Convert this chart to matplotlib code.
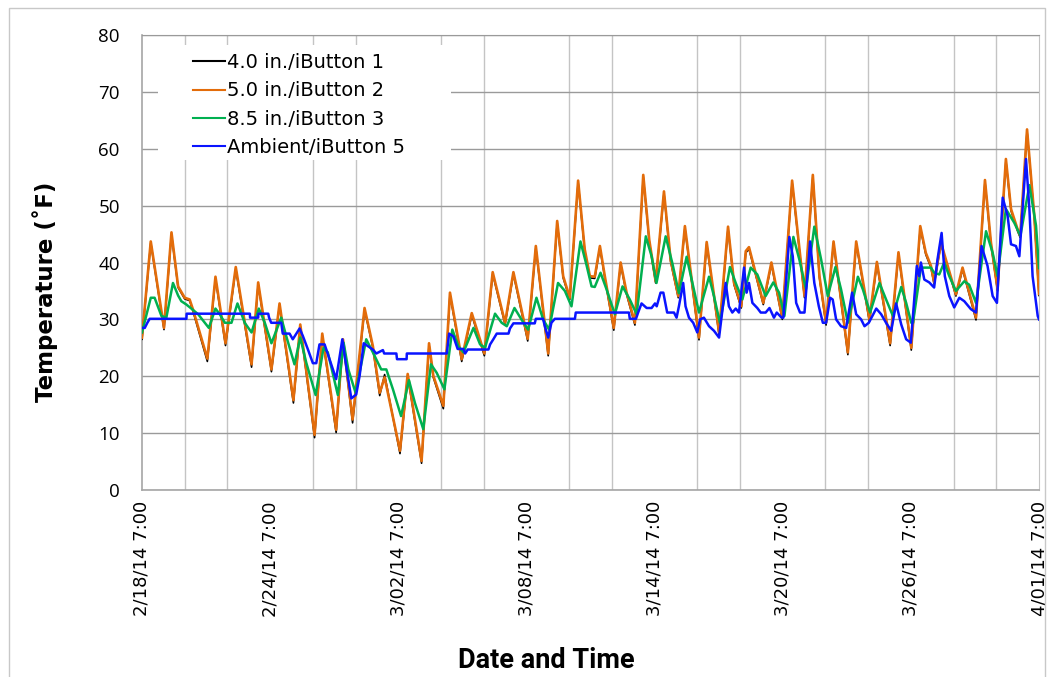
import matplotlib
matplotlib.use("Agg")
import matplotlib.pyplot as plt
from matplotlib.lines import Line2D
from matplotlib.patches import Rectangle

# ---------------- data (time = days since 2/18/14 7:00) ----------------
tick_days = [0, 6, 12, 18, 24, 30, 36, 42]
tick_labels = ["2/18/14 7:00", "2/24/14 7:00", "3/02/14 7:00", "3/08/14 7:00",
               "3/14/14 7:00", "3/20/14 7:00", "3/26/14 7:00", "4/01/14 7:00"]
y_ticks = [0, 10, 20, 30, 40, 50, 60, 70, 80]

series_names = ["4.0 in./iButton 1", "5.0 in./iButton 2",
                "8.5 in./iButton 3", "Ambient/iButton 5"]

probe_t = [0.00, 0.41, 1.03, 1.38, 1.69, 2.00, 2.23, 2.39, 3.06, 3.44,
           3.91, 4.39, 5.13, 5.44, 6.06, 6.44, 7.09, 7.41, 8.08, 8.44,
           9.09, 9.41, 9.86, 10.42, 10.81, 11.13, 11.36, 12.08, 12.44, 13.09,
           13.44, 13.64, 14.11, 14.42, 14.97, 15.44, 16.03, 16.42, 17.00, 17.39,
           18.06, 18.44, 19.02, 19.44, 19.72, 20.03, 20.42, 20.73, 20.97, 21.20,
           21.44, 21.67, 22.09, 22.41, 22.69, 23.08, 23.47, 23.75, 24.05, 24.44,
           24.75, 25.11, 25.42, 26.08, 26.44, 27.02, 27.44, 27.72, 28.06, 28.27,
           28.42, 28.81, 29.09, 29.47, 29.98, 30.44, 31.02, 31.41, 31.72, 32.03,
           32.38, 33.05, 33.44, 34.06, 34.41, 35.03, 35.42, 36.02, 36.44, 36.70,
           36.94, 37.09, 37.41, 38.11, 38.42, 39.05, 39.47, 39.75, 40.06, 40.45,
           40.69, 41.00, 41.12, 41.44, 41.78, 42.00]

ibutton2_v = [26.8, 43.7, 28.5, 45.3, 35.8, 33.8, 33.5, 31.7, 23.1, 37.5,
              25.8, 39.2, 22.1, 36.5, 21.2, 32.8, 15.8, 29.1, 9.7, 27.5,
              10.6, 26.5, 12.4, 32.0, 25.3, 17.1, 19.8, 6.9, 20.4, 5.1,
              25.8, 20.1, 14.8, 34.7, 23.0, 31.1, 24.0, 38.3, 29.4, 38.3,
              26.6, 42.9, 24.0, 47.3, 37.6, 33.8, 54.4, 42.3, 37.6, 37.5,
              42.9, 37.6, 28.5, 40.0, 34.7, 29.4, 55.4, 44.0, 36.7, 52.5,
              40.5, 34.1, 46.4, 26.8, 43.6, 27.7, 46.3, 36.4, 32.3, 42.0,
              42.7, 37.0, 32.9, 40.0, 30.3, 54.4, 34.1, 55.4, 37.6, 29.4,
              43.7, 24.2, 43.7, 30.0, 40.1, 25.8, 41.8, 25.0, 46.4, 41.7,
              39.4, 36.5, 43.5, 34.4, 39.1, 30.3, 54.5, 43.5, 35.3, 58.2,
              49.4, 45.8, 44.7, 63.4, 48.2, 34.5]

ibutton1_v = [26.5, 43.5, 28.2, 45.0, 35.6, 33.6, 33.3, 31.4, 22.6, 37.2,
              25.4, 38.9, 21.6, 36.2, 20.8, 32.5, 15.3, 28.8, 9.2, 27.2,
              10.1, 26.3, 11.8, 31.7, 25.0, 16.6, 20.3, 6.4, 20.1, 4.7,
              25.5, 19.8, 14.3, 34.4, 22.6, 30.8, 23.6, 38.0, 29.1, 38.0,
              26.2, 42.6, 23.6, 47.0, 37.3, 33.5, 54.1, 42.0, 37.3, 37.2,
              42.6, 37.3, 28.1, 39.7, 34.4, 29.0, 55.1, 43.7, 36.4, 52.2,
              40.2, 33.8, 46.1, 26.4, 43.3, 27.3, 46.0, 36.1, 32.0, 41.7,
              42.4, 36.7, 32.6, 39.7, 30.0, 54.1, 33.8, 55.1, 37.3, 29.0,
              43.4, 23.8, 43.4, 29.6, 39.8, 25.4, 41.5, 24.6, 46.1, 41.4,
              39.1, 36.2, 43.2, 34.1, 38.8, 29.9, 54.2, 43.2, 35.0, 57.9,
              49.1, 45.5, 44.4, 63.1, 47.9, 34.2]

ibutton3_t = [0.00, 0.41, 0.59, 0.91, 1.14, 1.45, 1.69, 1.84, 2.08, 2.31,
              2.63, 2.94, 3.13, 3.44, 3.64, 3.88, 4.19, 4.47, 4.81, 5.13,
              5.47, 5.75, 6.06, 6.52, 6.75, 7.14, 7.41, 7.69, 8.13, 8.50,
              8.70, 9.17, 9.44, 9.66, 10.00, 10.50, 10.81, 11.20, 11.44, 11.75,
              12.13, 12.50, 12.78, 13.17, 13.53, 13.80, 14.16, 14.53, 14.81, 15.05,
              15.52, 15.83, 16.06, 16.53, 16.84, 17.08, 17.44, 17.78, 18.08, 18.47,
              18.78, 19.06, 19.48, 19.80, 20.11, 20.53, 20.81, 21.05, 21.20, 21.47,
              21.75, 22.14, 22.50, 22.84, 23.16, 23.59, 23.86, 24.09, 24.52, 24.83,
              25.14, 25.50, 25.77, 26.08, 26.55, 26.78, 27.06, 27.53, 27.80, 28.11,
              28.50, 28.81, 29.20, 29.56, 29.83, 30.08, 30.50, 30.78, 31.09, 31.48,
              31.80, 32.11, 32.47, 32.73, 33.05, 33.52, 33.75, 34.09, 34.53, 34.84,
              35.16, 35.55, 35.78, 36.02, 36.10, 36.47, 36.94, 37.09, 37.33, 37.56,
              37.80, 38.11, 38.50, 38.73, 39.05, 39.52, 39.83, 40.06, 40.45, 40.84,
              41.13, 41.55, 41.86, 42.00]

ibutton3_v = [27.7, 33.8, 33.8, 30.6, 30.3, 36.4, 34.2, 33.2, 32.6, 31.9,
              30.9, 29.4, 28.5, 31.9, 30.9, 29.4, 29.4, 32.8, 29.4, 27.7,
              31.9, 29.4, 25.8, 30.3, 27.1, 22.1, 26.8, 22.4, 16.7, 25.0,
              24.2, 16.7, 25.9, 21.2, 17.1, 26.5, 24.2, 21.2, 21.2, 17.7,
              13.0, 19.3, 15.3, 10.7, 22.1, 20.6, 17.7, 28.2, 25.3, 24.2,
              28.5, 25.6, 25.0, 31.0, 29.4, 28.8, 32.0, 29.9, 28.2, 33.8,
              30.0, 28.2, 36.4, 35.0, 32.3, 43.7, 39.6, 35.8, 35.7, 38.2,
              35.3, 30.9, 35.8, 33.5, 30.9, 44.6, 41.1, 36.4, 44.6, 39.9,
              34.6, 41.0, 36.4, 31.2, 37.5, 34.1, 29.4, 39.2, 36.4, 33.5,
              39.1, 37.9, 34.1, 36.5, 34.7, 30.6, 44.5, 40.5, 35.3, 46.3,
              40.5, 34.1, 39.2, 35.3, 29.4, 37.5, 35.3, 31.2, 36.4, 33.5,
              30.6, 35.7, 32.9, 29.4, 29.4, 39.1, 39.1, 38.2, 37.9, 40.0,
              37.6, 35.0, 36.7, 36.1, 32.9, 45.5, 41.7, 37.6, 49.4, 47.0,
              44.7, 53.6, 46.5, 39.0]

ambient_t = [0.00, 0.13, 0.25, 0.36, 2.08, 2.09, 5.05, 5.06, 5.44, 5.45,
             5.91, 5.95, 6.05, 6.52, 6.59, 6.91, 7.06, 7.38, 7.53, 7.77,
             8.00, 8.16, 8.31, 8.55, 8.78, 9.09, 9.38, 9.56, 9.80, 10.03,
             10.19, 10.38, 10.81, 10.97, 11.28, 11.34, 11.91, 11.94, 12.39, 12.40,
             14.27, 14.38, 14.58, 14.78, 15.05, 15.13, 15.25, 16.22, 16.30, 16.45,
             16.61, 17.16, 17.23, 17.39, 18.39, 18.44, 18.78, 18.86, 19.02, 19.17,
             19.33, 20.27, 20.31, 22.80, 22.84, 23.13, 23.23, 23.39, 23.63, 23.86,
             24.02, 24.10, 24.28, 24.41, 24.59, 24.91, 25.03, 25.14, 25.34, 25.45,
             25.61, 25.81, 26.00, 26.13, 26.31, 26.55, 26.78, 27.02, 27.33, 27.48,
             27.64, 27.80, 27.95, 28.19, 28.31, 28.42, 28.58, 28.81, 28.97, 29.20,
             29.38, 29.59, 29.72, 29.95, 30.03, 30.31, 30.47, 30.63, 30.81, 31.02,
             31.28, 31.48, 31.69, 31.88, 32.03, 32.22, 32.34, 32.50, 32.73, 32.97,
             33.25, 33.44, 33.67, 33.83, 34.03, 34.38, 34.61, 34.84, 35.08, 35.31,
             35.55, 35.78, 36.00, 36.28, 36.39, 36.47, 36.63, 36.86, 37.09, 37.25,
             37.44, 37.59, 37.80, 38.03, 38.27, 38.50, 38.81, 39.05, 39.31, 39.59,
             39.83, 40.03, 40.30, 40.41, 40.53, 40.69, 40.92, 41.08, 41.39, 41.55,
             41.70, 41.94, 42.00]

ambient_v = [28.5, 28.5, 29.4, 30.1, 30.1, 31.0, 31.0, 30.3, 30.3, 31.0,
             31.0, 30.3, 29.4, 29.4, 27.5, 27.5, 26.5, 28.4, 27.1, 24.7,
             22.3, 22.3, 25.6, 25.6, 23.0, 19.5, 26.5, 21.8, 16.1, 16.8,
             20.1, 25.8, 24.7, 24.0, 24.6, 24.0, 24.0, 23.0, 23.0, 24.0,
             24.0, 27.5, 27.0, 24.8, 24.8, 24.0, 24.7, 24.7, 25.6, 26.5,
             27.5, 27.5, 28.4, 29.3, 29.3, 30.1, 30.1, 28.8, 26.8, 29.4,
             30.1, 30.1, 31.2, 31.2, 30.1, 30.1, 31.2, 32.8, 32.0, 32.0,
             32.8, 32.3, 34.7, 34.7, 31.2, 31.2, 30.3, 32.3, 36.4, 32.3,
             30.3, 29.4, 27.7, 30.0, 30.3, 28.8, 28.0, 26.8, 36.4, 32.3,
             31.2, 31.9, 31.2, 39.1, 34.7, 36.4, 32.9, 32.0, 31.2, 31.2,
             32.0, 30.3, 31.2, 30.3, 30.3, 44.5, 41.1, 32.9, 31.2, 31.2,
             43.7, 36.4, 32.3, 29.4, 29.4, 33.8, 33.5, 30.0, 28.8, 28.5,
             34.7, 30.9, 30.0, 28.8, 29.4, 31.9, 30.9, 29.4, 28.0, 32.8,
             29.1, 26.5, 25.9, 39.4, 37.6, 40.0, 37.0, 36.5, 35.6, 40.6,
             45.2, 37.6, 34.1, 32.1, 33.8, 33.2, 31.8, 31.2, 42.9, 39.4,
             34.1, 32.9, 51.4, 49.9, 48.2, 43.2, 42.9, 41.1, 58.2, 49.4,
             37.6, 30.6, 30.0]

# ---------------- styling ----------------
c_black = "#000000"
c_orange = "#E36C0A"
c_green = "#00B050"
c_blue = "#0A14FF"

W, H = 1049, 677
fig = plt.figure(figsize=(W / 100, H / 100), dpi=100)
fig.patch.set_facecolor("white")

# outer chart-area border
fig.patches.append(Rectangle((9 / W, -0.05), (1045 - 9) / W, 1.05 - 8 / H,
                             transform=fig.transFigure, fill=False,
                             edgecolor="#c8c8c8", linewidth=1.0))

L, R, T, B = 142, 1039, 35, 490
ax = fig.add_axes([L / W, 1 - B / H, (R - L) / W, (B - T) / H])

def px2ax(x, y):
    return (x - L) / (R - L), (B - y) / (B - T)

ax.plot(probe_t, ibutton1_v, color=c_black, lw=1.2, zorder=3)
ax.plot(probe_t, ibutton2_v, color=c_orange, lw=1.9, zorder=4)
ax.plot(ibutton3_t, ibutton3_v, color=c_green, lw=1.8, zorder=5)
ax.plot(ambient_t, ambient_v, color=c_blue, lw=1.8, zorder=6)

ax.set_xlim(0, 42)
ax.set_ylim(0, 80)
ax.set_yticks(y_ticks)
ax.set_xticks(tick_days)
ax.set_xticklabels(tick_labels, rotation=90, ha="center", va="top",
                   fontsize=13, family=["DejaVu Sans"])
ax.set_xticks(list(range(0, 43, 2)), minor=True)
for lab in ax.get_yticklabels():
    lab.set_fontfamily(["Open Sans", "DejaVu Sans"])
    lab.set_fontsize(13.5)
ax.tick_params(axis="y", length=0, pad=16)
ax.tick_params(axis="x", which="both", length=0, pad=8)

ax.grid(True, axis="y", color="#9a9a9a", lw=1.0, zorder=0)
ax.grid(True, axis="x", which="minor", color="#c4c4c4", lw=1.0, zorder=0)
ax.grid(False, axis="x", which="major")
ax.set_axisbelow(True)
for side in ["left", "bottom"]:
    ax.spines[side].set_color("#a6a6a6")
    ax.spines[side].set_linewidth(1.2)
ax.spines["top"].set_color("#9a9a9a")
ax.spines["right"].set_color("#c4c4c4")

# legend background box (white, no border)
x0, y0 = px2ax(158, 160)
x1, y1 = px2ax(451, 45)
ax.add_patch(Rectangle((x0, y0), x1 - x0, y1 - y0, transform=ax.transAxes,
                       facecolor="white", edgecolor="none", zorder=2))

handles = [Line2D([], [], color=c, lw=1.5) for c in [c_black, c_orange, c_green, c_blue]]
lx, ly = px2ax(193, 53)
leg = ax.legend(handles, series_names, loc="upper left",
                bbox_to_anchor=(lx, ly), frameon=False,
                prop={"family": ["DejaVu Sans"], "size": 14},
                handlelength=1.65, handletextpad=0.1, labelspacing=0.48,
                borderpad=0, borderaxespad=0)
leg.set_zorder(10)

fig.text(45 / W, 1 - 292 / H, "Temperature (\u02daF)", rotation=90,
         ha="center", va="center", fontsize=16.5, fontweight="bold",
         family=["DejaVu Sans"])
fig.text(546 / W, 1 - 661 / H, "Date and Time", ha="center", va="center",
         fontsize=19.5, fontweight="bold",
         family=["Roboto", "Open Sans", "DejaVu Sans"])

fig.savefig("out.png", dpi=100, facecolor="white")
